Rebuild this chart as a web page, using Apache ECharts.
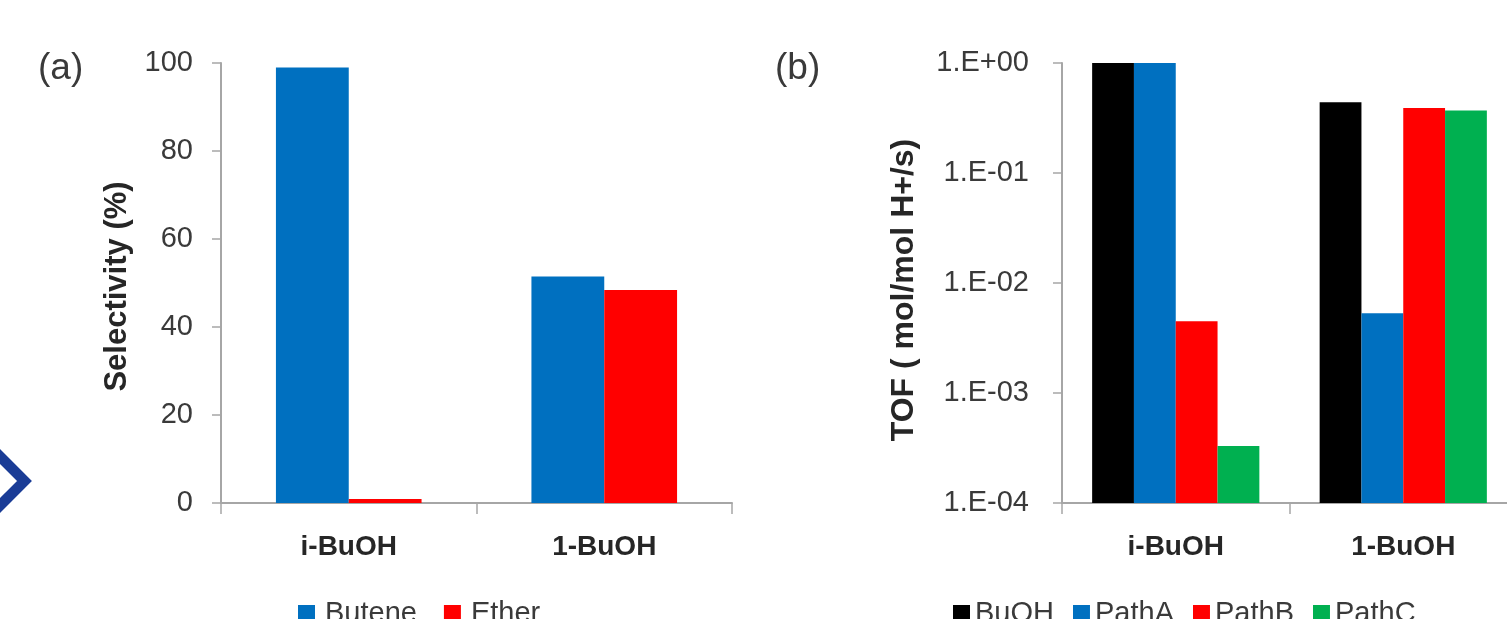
<!DOCTYPE html>
<html>
<head>
<meta charset="utf-8">
<script src="https://cdn.jsdelivr.net/npm/echarts@6/dist/echarts.min.js"></script>
<style>
html,body{margin:0;padding:0;background:#fff;overflow:hidden;width:1507px;height:619px;}
#chart{width:1540px;height:619px;}
</style>
</head>
<body>
<div id="chart"></div>
<script>
// ---- data ----
const categories = ['i-BuOH', '1-BuOH'];
// panel (a): selectivity (%)
const butene = [99.0, 51.5];
const ether = [0.9, 48.4];
const selTicks = [0, 20, 40, 60, 80, 100];
// panel (b): TOF (mol/mol H+/s), log scale
const buoh = [1.0, 0.44];
const pathA = [1.0, 0.0053];
const pathB = [0.0045, 0.39];
const pathC = [0.00033, 0.37];
const tofMin = 1e-4;
const tofMax = 1;
const tofTickLabels = ['1.E-04', '1.E-03', '1.E-02', '1.E-01', '1.E+00'];

const FONT = '"Liberation Sans", Arial, sans-serif';
const AXIS_COLOR = '#a6a6a6';
const TEXT = '#3a3a3a';

const chart = echarts.init(document.getElementById('chart'), null, {renderer: 'canvas'});

const axisX = (gi) => ({
  type: 'category', gridIndex: gi, data: categories,
  axisLine: {show: true, lineStyle: {color: AXIS_COLOR, width: 2}},
  axisTick: {show: true, length: 11, lineStyle: {color: AXIS_COLOR, width: 1.5}},
  axisLabel: {fontFamily: FONT, fontSize: 28, fontWeight: 'bold', color: '#262626', margin: 30}
});

// bars on the log axis, drawn from the axis minimum through the axis scale
const TOF_GROUP = 4;
const TOF_CAT_GAP = 0.265;
function tofBar(seriesIdx, color, name, values) {
  return {
    name: name, type: 'custom', xAxisIndex: 1, yAxisIndex: 1,
    itemStyle: {color: color},
    data: values.map((v, i) => [i, v]),
    encode: {x: 0, y: 1},
    renderItem: function (params, api) {
      const cat = api.value(0);
      const val = api.value(1);
      const top = api.coord([cat, val]);
      const base = api.coord([cat, tofMin]);
      const band = api.size([1, 0])[0];
      const bw = band * (1 - TOF_CAT_GAP) / TOF_GROUP;
      const x0 = top[0] - bw * TOF_GROUP / 2 + seriesIdx * bw;
      return {
        type: 'rect',
        shape: {x: x0, y: top[1], width: bw, height: base[1] - top[1]},
        style: {fill: color}
      };
    }
  };
}

const option = {
  animation: false,
  backgroundColor: '#ffffff',
  grid: [
    {left: 221, top: 63, width: 511, height: 440},
    {left: 1062, top: 63, width: 455, height: 440}
  ],
  xAxis: [axisX(0), axisX(1)],
  yAxis: [
    {
      type: 'value', gridIndex: 0, min: selTicks[0], max: selTicks[selTicks.length - 1], interval: 20,
      name: 'Selectivity (%)', nameLocation: 'middle', nameGap: 88, nameRotate: 90,
      nameTextStyle: {fontFamily: FONT, fontSize: 31, fontWeight: 'bold', color: '#262626', padding: [0, 7, 0, 0]},
      axisLine: {show: true, lineStyle: {color: AXIS_COLOR, width: 2}},
      axisTick: {show: true, length: 9, lineStyle: {color: AXIS_COLOR, width: 1.5}},
      splitLine: {show: false},
      axisLabel: {fontFamily: FONT, fontSize: 29, color: TEXT, margin: 28}
    },
    {
      type: 'log', gridIndex: 1, logBase: 10, min: tofMin, max: tofMax,
      name: 'TOF ( mol/mol H+/s)', nameLocation: 'middle', nameGap: 142, nameRotate: 90,
      nameTextStyle: {fontFamily: FONT, fontSize: 32, fontWeight: 'bold', color: '#262626', padding: [0, 14, 0, 0]},
      axisLine: {show: true, lineStyle: {color: AXIS_COLOR, width: 2}},
      axisTick: {show: true, length: 9, lineStyle: {color: AXIS_COLOR, width: 1.5}},
      splitLine: {show: false},
      axisLabel: {
        fontFamily: FONT, fontSize: 29, color: TEXT, margin: 33,
        formatter: (v) => tofTickLabels[Math.round(Math.log10(v)) + 4]
      }
    }
  ],
  legend: [
    {
      data: ['Butene', 'Ether'], left: 293, top: 594, itemWidth: 17, itemHeight: 17, itemGap: 27,
      icon: 'rect', textStyle: {fontFamily: FONT, fontSize: 29, color: TEXT, padding: [0, 0, 0, 5]}
    },
    {
      data: ['BuOH', 'PathA', 'PathB', 'PathC'], left: 948, top: 594, itemWidth: 17, itemHeight: 17, itemGap: 19,
      icon: 'rect', textStyle: {fontFamily: FONT, fontSize: 29, color: TEXT, padding: [0, 0, 0, 0]}
    }
  ],
  series: [
    {name: 'Butene', type: 'bar', xAxisIndex: 0, yAxisIndex: 0, data: butene, barGap: '0%', barCategoryGap: '43%', itemStyle: {color: '#0070c0'}},
    {name: 'Ether', type: 'bar', xAxisIndex: 0, yAxisIndex: 0, data: ether, barGap: '0%', barCategoryGap: '43%', itemStyle: {color: '#ff0000'}},
    tofBar(0, '#000000', 'BuOH', buoh),
    tofBar(1, '#0070c0', 'PathA', pathA),
    tofBar(2, '#ff0000', 'PathB', pathB),
    tofBar(3, '#00b050', 'PathC', pathC)
  ],
  graphic: [
    {type: 'text', left: 38, top: 50, style: {text: '(a)', font: '37px ' + FONT, fill: TEXT}},
    {type: 'text', left: 775, top: 50, style: {text: '(b)', font: '37px ' + FONT, fill: TEXT}},
    {type: 'polyline', shape: {points: [[-20, 436.5], [24.5, 481], [-20, 525.5]]},
     style: {stroke: '#1a3c96', lineWidth: 10.5, fill: null, lineJoin: 'miter'}}
  ]
};
chart.setOption(option);
</script>
</body>
</html>
